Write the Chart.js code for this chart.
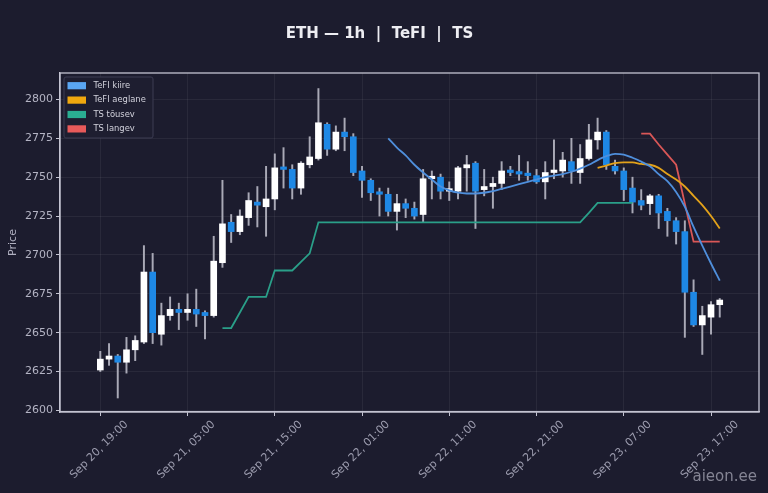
<!DOCTYPE html>
<html>
<head>
<meta charset="utf-8">
<script src="https://cdn.jsdelivr.net/npm/chart.js@4.4.1/dist/chart.umd.min.js"></script>
<style>
  html, body { margin: 0; padding: 0; background: #1c1c2e; }
  #wrap { width: 768px; height: 493px; }
</style>
</head>
<body>
<div id="wrap"><canvas id="myChart" width="768" height="493"></canvas></div>
<script>
// hourly candles, Sep 20 19:00 -> Sep 23 18:00
const open  = [2626,2633,2635,2631,2639,2644,2689,2649,2661,2665,2663,2665,2663,2661,2695,2721,2715,2724,2734,2731,
               2736,2756,2755,2743,2758,2762,2784,2768,2779,2776,2754,2748,2740,2739,2728,2733,2730,2726,2749,2750,
               2741,2741,2756,2759,2742,2744,2746,2754,2753,2752,2751,2747,2753,2754,2760,2753,2762,2774,2779,2757,
               2754,2743,2735,2733,2738,2728,2722,2715,2676,2655,2660,2668];
const high  = [2638,2643,2636,2647,2648,2706,2701,2669,2673,2669,2675,2678,2664,2712,2748,2726,2729,2740,2744,2757,
               2765,2769,2758,2760,2776,2807,2785,2783,2788,2778,2757,2749,2743,2743,2739,2736,2734,2755,2754,2752,
               2747,2757,2764,2760,2755,2750,2760,2757,2764,2760,2755,2760,2774,2766,2775,2771,2784,2788,2780,2761,
               2756,2750,2742,2739,2739,2730,2724,2722,2684,2667,2670,2672];
const low   = [2625,2629,2608,2624,2632,2643,2643,2642,2658,2652,2658,2654,2646,2660,2692,2708,2713,2719,2718,2712,
               2729,2743,2736,2739,2756,2761,2764,2767,2767,2751,2737,2735,2725,2725,2716,2724,2723,2721,2736,2736,
               2735,2736,2741,2717,2738,2730,2742,2751,2748,2748,2746,2736,2749,2750,2746,2746,2761,2768,2755,2752,
               2735,2727,2729,2726,2717,2712,2707,2647,2654,2636,2649,2660];
const close = [2633,2635,2631,2639,2645,2689,2650,2661,2665,2663,2665,2662,2661,2696,2720,2715,2725,2735,2732,2736,
               2756,2755,2743,2759,2763,2785,2768,2779,2776,2753,2748,2740,2739,2728,2733,2730,2725,2749,2750,2741,
               2742,2756,2758,2741,2744,2746,2754,2753,2752,2751,2747,2753,2754,2761,2754,2762,2774,2779,2758,2754,
               2742,2734,2732,2738,2727,2722,2715,2676,2655,2661,2668,2671];

const _ = null;
const tefiFast = [_,_,_,_,_,_,_,_,_,_, _,_,_,_,_,_,_,_,_,_, _,_,_,_,_,_,_,_,_,_, _,_,_,2775,2769,2764,2758,2753,2748.5,2744,
                  2741.5,2740,2739.5,2739.5,2740,2741,2742.5,2744,2745.5,2747,2748.5,2750,2751,2752,2753.5,2755.5,2758,2761,2763.5,2765,
                  2764.5,2762.5,2760,2757,2752,2747.5,2740.5,2731,2718,2706,2694.5,2683.5];
const tefiSlow = [_,_,_,_,_,_,_,_,_,_, _,_,_,_,_,_,_,_,_,_, _,_,_,_,_,_,_,_,_,_, _,_,_,_,_,_,_,_,_,_,
                  _,_,_,_,_,_,_,_,_,_, _,_,_,_,_,_,_,2756,2757.5,2759,
                  2759.5,2759.5,2758.5,2758,2756,2752,2748.5,2744,2738,2732,2725,2717];
const tsUp     = [_,_,_,_,_,_,_,_,_,_, _,_,_,_,2653,2653,2663,2673,2673,2673,
                  2690,2690,2690,2695.5,2701,2721,2721,2721,2721,2721, 2721,2721,2721,2721,2721,2721,2721,2721,2721,2721,
                  2721,2721,2721,2721,2721,2721,2721,2721,2721,2721, 2721,2721,2721,2721,2721,2721,2727,2733.5,2733.5,2733.5,
                  2733.5,2733.5,_,_,_,_,_,_,_,_,_,_];
const tsDown   = [_,_,_,_,_,_,_,_,_,_, _,_,_,_,_,_,_,_,_,_, _,_,_,_,_,_,_,_,_,_, _,_,_,_,_,_,_,_,_,_,
                  _,_,_,_,_,_,_,_,_,_, _,_,_,_,_,_,_,_,_,_,
                  _,_,2778,2778,2771,2764.5,2758,2733,2708.5,2708.5,2708.5,2708.5];

const xTickIdx = [0,10,20,30,40,50,60,70];
const xTickLabels = ['Sep 20, 19:00','Sep 21, 05:00','Sep 21, 15:00','Sep 22, 01:00',
                     'Sep 22, 11:00','Sep 22, 21:00','Sep 23, 07:00','Sep 23, 17:00'];
const yTicks = [2600,2625,2650,2675,2700,2725,2750,2775,2800];

const UP = '#ffffff', DOWN = '#1e88e5', WICK = '#a9a9b6';
const AXIS = '#c4c4d2', GRID = 'rgba(255,255,255,0.06)';
const FONT = 'DejaVu Sans';

const pts = arr => arr.map((v, i) => ({ x: i, y: v })).filter(p => p.y !== null);
const isUp = close.map((c, i) => c >= open[i]);

const frame = {
  id: 'frame',
  afterDraw(chart) {
    const { ctx, chartArea: a } = chart;
    ctx.save();
    ctx.strokeStyle = AXIS;
    ctx.lineWidth = 1.3;
    ctx.strokeRect(a.left, a.top, a.right - a.left, a.bottom - a.top);

    // legend box
    const items = chart.data.datasets.filter(d => d.legendColor);
    const bx = a.left + 4, by = a.top + 4, bw = 89, bh = 61;
    ctx.fillStyle = '#1e1e30';
    ctx.strokeStyle = '#3c3c52';
    ctx.lineWidth = 1;
    ctx.beginPath();
    ctx.roundRect(bx, by, bw, bh, 2);
    ctx.fill();
    ctx.stroke();
    ctx.font = '8.4px "' + FONT + '"';
    ctx.textBaseline = 'middle';
    items.forEach((d, k) => {
      const cy = by + 8.7 + k * 14.4;
      ctx.fillStyle = d.legendColor;
      ctx.fillRect(bx + 3.5, cy - 3.6, 18.5, 7.2);
      ctx.fillStyle = '#d2d2dc';
      ctx.fillText(d.label, bx + 29.5, cy);
    });

    // watermark
    ctx.font = '15px "' + FONT + '"';
    ctx.textAlign = 'right';
    ctx.textBaseline = 'alphabetic';
    ctx.fillStyle = 'rgba(150,150,166,0.85)';
    ctx.fillText('aieon.ee', 757, 481);
    ctx.restore();
  }
};

const ctx = document.getElementById('myChart');
new Chart(ctx, {
  type: 'bar',
  data: {
    datasets: [
      {
        type: 'line', label: 'TeFI kiire', legendColor: '#5aa6f2',
        data: pts(tefiFast), borderColor: '#4f8fdc', borderWidth: 1.8,
        pointRadius: 0, cubicInterpolationMode: 'monotone', order: 0
      },
      {
        type: 'line', label: 'TeFI aeglane', legendColor: '#f0a80e',
        data: pts(tefiSlow), borderColor: '#e3a21a', borderWidth: 1.8,
        pointRadius: 0, cubicInterpolationMode: 'monotone', order: 0
      },
      {
        type: 'line', label: 'TS tõusev', legendColor: '#2aae92',
        data: pts(tsUp), borderColor: '#2a9f89', borderWidth: 1.8,
        pointRadius: 0, tension: 0, order: 0
      },
      {
        type: 'line', label: 'TS langev', legendColor: '#e85a5a',
        data: pts(tsDown), borderColor: '#d95757', borderWidth: 1.8,
        pointRadius: 0, tension: 0, order: 0
      },
      {
        label: 'body',
        data: open.map((o, i) => ({ x: i, y: [o, close[i]] })),
        backgroundColor: isUp.map(u => u ? UP : DOWN),
        barThickness: 6, minBarLength: 2.5, grouped: false, order: 1
      },
      {
        label: 'wick',
        data: low.map((l, i) => ({ x: i, y: [l, high[i]] })),
        backgroundColor: WICK,
        barThickness: 1.3, grouped: false, order: 2
      }
    ]
  },
  options: {
    responsive: false,
    animation: false,
    layout: { padding: { left: 0, right: 9, top: 0, bottom: 0 } },
    plugins: {
      legend: { display: false },
      tooltip: { enabled: false },
      title: {
        display: true,
        text: 'ETH — 1h  |  TeFI  |  TS',
        color: '#ededf2',
        font: { family: FONT, size: 15, weight: 'bold' },
        padding: { top: 25, bottom: 30 }
      }
    },
    scales: {
      x: {
        type: 'linear',
        offset: false,
        min: -4.62, max: 75.5,
        afterBuildTicks: s => { s.ticks = xTickIdx.map(v => ({ value: v })); },
        afterFit: s => { s.height = 81; },
        ticks: {
          autoSkip: false, minRotation: 45, maxRotation: 45,
          color: '#9c9cae', font: { family: FONT, size: 11 },
          labelOffset: 26, padding: 2,
          callback: v => xTickLabels[xTickIdx.indexOf(v)] || ''
        },
        grid: { color: GRID, tickColor: AXIS, tickLength: 4, offset: false },
        border: { color: AXIS, width: 1.3 }
      },
      y: {
        min: 2599, max: 2817,
        afterBuildTicks: s => { s.ticks = yTicks.map(v => ({ value: v })); },
        afterFit: s => { s.width = 60; },
        ticks: {
          color: '#b4b4c4', font: { family: FONT, size: 11 }, padding: 3,
          callback: v => String(v)
        },
        grid: { color: GRID, tickColor: AXIS, tickLength: 4 },
        border: { color: AXIS, width: 1.3 },
        title: {
          display: true, text: 'Price', color: '#b0b0c0',
          font: { family: FONT, size: 11 }, padding: { top: 7, bottom: 0 }
        }
      }
    }
  },
  plugins: [frame]
});
</script>
</body>
</html>
